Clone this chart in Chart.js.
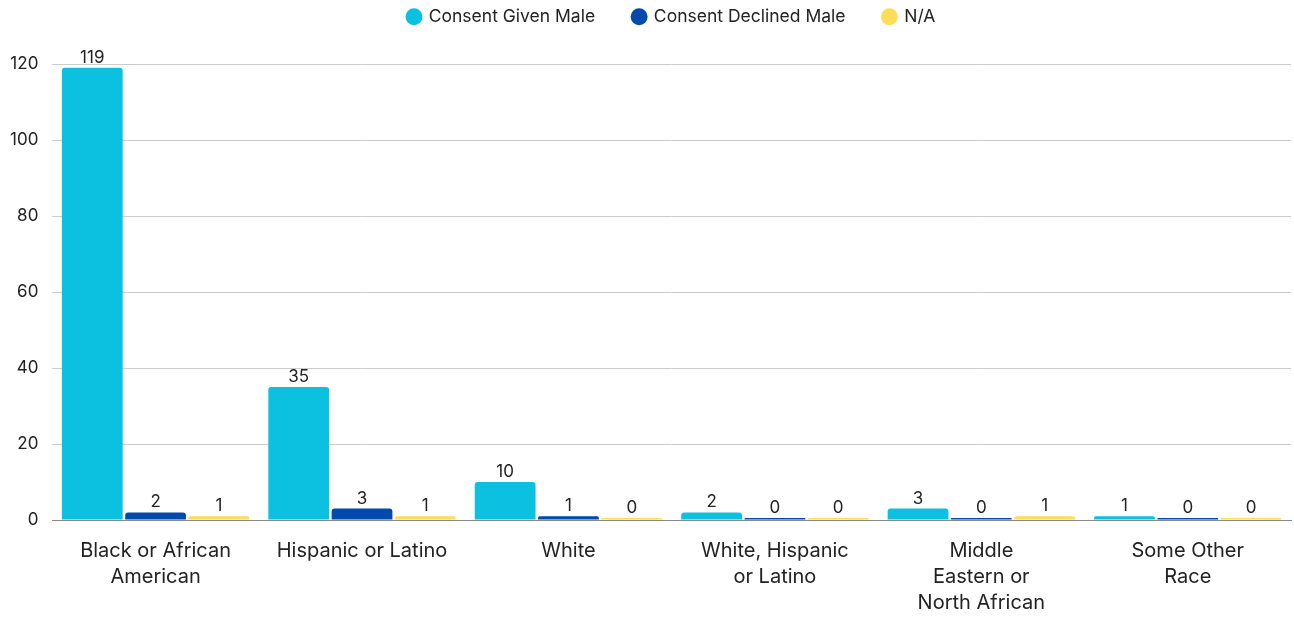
<!DOCTYPE html>
<html>
<head>
<meta charset="utf-8">
<script src="https://cdn.jsdelivr.net/npm/chart.js@4/dist/chart.umd.min.js"></script>
<style>
  html, body { margin: 0; padding: 0; background: #fff; }
  .charts__wrap { width: 1294px; height: 618px; position: relative; }
</style>
</head>
<body>
<div class="charts__wrap"><canvas id="chart"></canvas></div>
<script>
var categories = [
  ['Black or African', 'American'],
  'Hispanic or Latino',
  'White',
  ['White, Hispanic', 'or Latino'],
  ['Middle', 'Eastern or', 'North African'],
  ['Some Other', 'Race']
]
var seriesNames = ['Consent Given Male', 'Consent Declined Male', 'N/A']
var consentGiven = [119, 35, 10, 2, 3, 1]
var consentDeclined = [2, 3, 1, 0, 0, 0]
var notApplicable = [1, 1, 0, 0, 1, 0]
var seriesColors = ['#0cc0df', '#004aad', '#ffdd57']
var yTicks = [0, 20, 40, 60, 80, 100, 120]

var ChartsInitializer = (function () {

  var fontFamily = 'Inter, "Noto Sans", sans-serif'

  // draws the value above each bar
  var valueLabels = {
    id: 'valueLabels',
    afterDatasetsDraw: function (chart) {
      var ctx = chart.ctx
      ctx.save()
      ctx.font = '17px ' + fontFamily
      ctx.fillStyle = '#222'
      ctx.textAlign = 'center'
      ctx.textBaseline = 'alphabetic'
      chart.data.datasets.forEach(function (ds, i) {
        chart.getDatasetMeta(i).data.forEach(function (bar, j) {
          ctx.fillText(String(ds.data[j]), bar.x, Math.min(bar.y, bar.base) - 5)
        })
      })
      ctx.restore()
    }
  }

  function buildDatasets () {
    var values = [consentGiven, consentDeclined, notApplicable]
    return values.map(function (data, i) {
      return {
        label: seriesNames[i],
        data: data,
        backgroundColor: seriesColors[i],
        borderRadius: 3,
        minBarLength: 2,
        categoryPercentage: 0.92,
        barPercentage: 0.96
      }
    })
  }

  function init () {
    var canvas = document.getElementById('chart')
    new Chart(canvas, {
      type: 'bar',
      data: {
        labels: categories,
        datasets: buildDatasets()
      },
      options: {
        responsive: true,
        maintainAspectRatio: false,
        animation: false,
        layout: { padding: { left: -4, right: 3, top: -30, bottom: -16 } },
        plugins: {
          tooltip: { enabled: false },
          legend: {
            position: 'top',
            fullSize: false,
            labels: {
              usePointStyle: true,
              pointStyle: 'circle',
              boxWidth: 12,
              boxHeight: 12,
              padding: 38,
              color: '#222',
              font: { family: fontFamily, size: 17.5 }
            }
          },
          // empty spacer between legend and plot
          subtitle: {
            display: true,
            text: '',
            weight: 500,
            padding: { top: 18.5, bottom: 0 },
            font: { size: 10, lineHeight: 1 }
          }
        },
        scales: {
          x: {
            grid: { display: false, drawTicks: false },
            border: { display: true, color: '#888', width: 1 },
            ticks: {
              color: '#222',
              padding: 18,
              maxRotation: 0,
              autoSkip: false,
              font: { family: fontFamily, size: 20, lineHeight: 1.3 }
            }
          },
          y: {
            min: 0,
            max: 120,
            afterBuildTicks: function (scale) {
              scale.ticks = yTicks.map(function (v) { return { value: v } })
            },
            border: { display: false },
            grid: {
              drawTicks: false,
              color: function (c) { return c.tick && c.tick.value === 0 ? '#888' : '#cccccc' }
            },
            ticks: {
              color: '#222',
              padding: 14,
              font: { family: fontFamily, size: 17 }
            }
          }
        }
      },
      plugins: [valueLabels]
    })
  }

  return {
    init: init
  }

})()

ChartsInitializer.init()
</script>
</body>
</html>
